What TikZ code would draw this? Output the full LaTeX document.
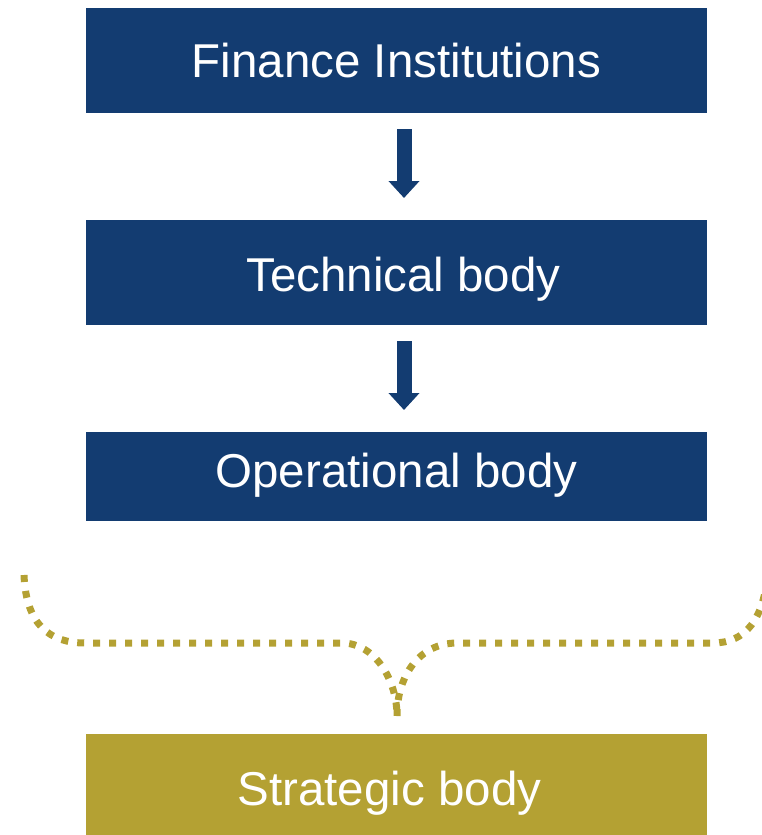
\documentclass[tikz,border=0pt]{standalone}
\usepackage{fontspec}
\setmainfont{Liberation Sans}
\usetikzlibrary{arrows.meta}
\definecolor{navy}{HTML}{133C71}
\definecolor{olive}{HTML}{B4A133}
\tikzset{
  box/.style={rectangle, draw=none, minimum width=621pt, inner sep=0pt, outer sep=0pt,
    text height=34pt, text depth=0pt,
    text=white, font=\fontsize{47.5}{56}\selectfont},
  navybox/.style={box, fill=navy},
  olivebox/.style={box, fill=olive},
  bigarrow/.style={draw=navy, line width=15pt, -{Triangle[width=30pt,length=17pt,fill=navy]}},
  bracepath/.style={draw=olive, line width=7pt, dash pattern=on 7pt off 9pt}
}
\begin{document}
\begin{tikzpicture}[x=1pt,y=-1pt]
\useasboundingbox (0,0) rectangle (762,835);
\node[navybox, minimum height=105pt] (b1) at (396.5,60.5) {Finance Institutions};
\node[navybox, minimum height=105pt] (b2) at (396.5,272.5) {\raisebox{-2pt}{\hspace*{14pt}Technical body}};
\node[navybox, minimum height=89pt] (b3) at (396.5,476.5) {\raisebox{6.5pt}{Operational body}};
\node[olivebox, minimum height=101pt] (b4) at (396.5,784.5) {\raisebox{-4pt}{Strategic body\hspace*{14pt}}};
\draw[bigarrow] ([xshift=7.5pt,yshift=-16pt]b1.south) -- ([xshift=7.5pt,yshift=22pt]b2.north);
\draw[bigarrow] ([xshift=7.5pt,yshift=-16pt]b2.south) -- ([xshift=7.5pt,yshift=22pt]b3.north);
\coordinate (bl) at (24,575);
\coordinate (bm) at (397,716);
\coordinate (br) at (768,568);
\draw[bracepath] (bl) .. controls (26,625) and (50,643) .. (85,643) -- (342,643)
   .. controls (375,643) and (397,680) .. (bm);
\draw[bracepath] (bm) .. controls (397,675) and (420,643) .. (457,643) -- (713,643)
   .. controls (745,643) and (765,620) .. (br);
\end{tikzpicture}
\end{document}
